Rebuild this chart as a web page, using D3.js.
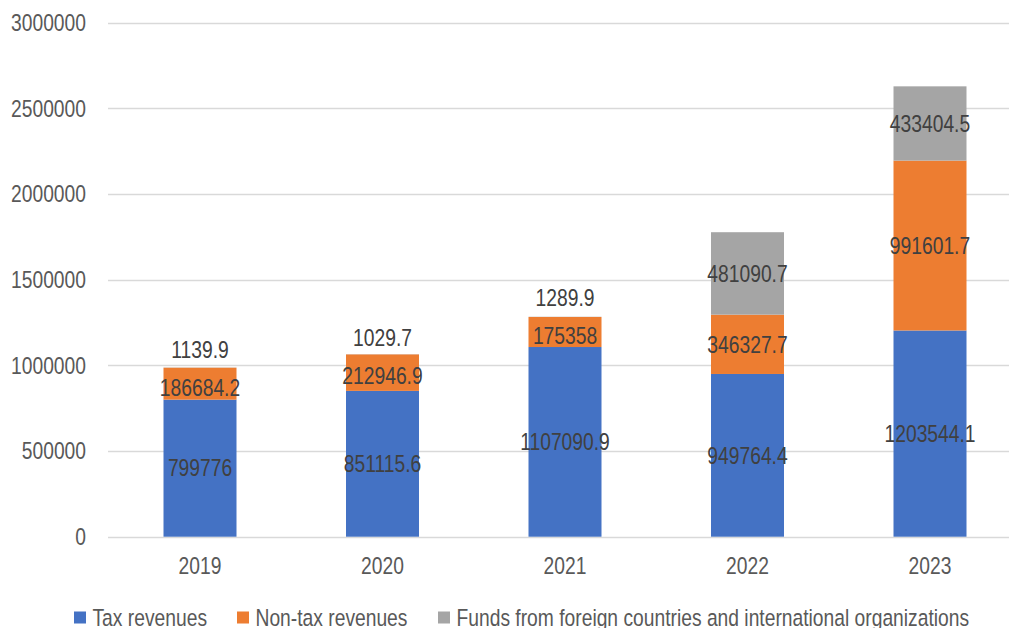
<!DOCTYPE html>
<html><head><meta charset="utf-8">
<script src="https://cdn.jsdelivr.net/npm/d3@7"></script>
<style>
html,body{margin:0;padding:0;background:#fff;overflow:hidden}
svg{display:block;font-family:"Liberation Sans",Arial,sans-serif}
</style></head>
<body>
<svg id="chart" width="1009" height="628"></svg>
<script>
const years = ["2019","2020","2021","2022","2023"];
const taxRevenues = [799776, 851115.6, 1107090.9, 949764.4, 1203544.1];
const nonTaxRevenues = [186684.2, 212946.9, 175358, 346327.7, 991601.7];
const foreignFunds = [1139.9, 1029.7, 1289.9, 481090.7, 433404.5];
const seriesNames = ["Tax revenues","Non-tax revenues","Funds from foreign countries and international organizations"];
const seriesColors = ["#4472C4","#ED7D31","#A5A5A5"];
const yTicks = [0,500000,1000000,1500000,2000000,2500000,3000000];

const SX = 0.82; // condensed font emulation
const FS = 23.5;
const keys = ["tax","nontax","foreign"];
const rows = years.map((y,i)=>({year:y, tax:taxRevenues[i], nontax:nonTaxRevenues[i], foreign:foreignFunds[i]}));
const stacked = d3.stack().keys(keys)(rows);

const svg = d3.select("#chart");
const x = d3.scaleBand().domain(years).range([108.75, 1021.25]).paddingInner(0.6).paddingOuter(0.3);
const y = d3.scaleLinear().domain([0,3000000]).range([536.7, 22.7]);

function placeText(sel, fx, fy){
  return sel.attr("transform", (d,i)=>`translate(${fx(d,i)},${fy(d,i)}) scale(${SX},1)`)
    .attr("dy","0.35em").attr("font-size",FS);
}

// gridlines
svg.append("g").selectAll("line").data(yTicks).join("line")
  .attr("x1",108).attr("x2",1009)
  .attr("y1",d=>Math.round(y(d))+0.5).attr("y2",d=>Math.round(y(d))+0.5)
  .attr("stroke","#D9D9D9").attr("stroke-width",1.5);

// y labels
placeText(svg.append("g").selectAll("text").data(yTicks).join("text"), ()=>86, d=>y(d))
  .attr("text-anchor","end").attr("fill","#595959")
  .text(d=>d3.format("d")(d));

// bars
const g = svg.append("g");
stacked.forEach((s,si)=>{
  g.append("g").attr("fill",seriesColors[si]).selectAll("rect").data(s).join("rect")
    .attr("x",d=>x(d.data.year)).attr("width",x.bandwidth())
    .attr("y",d=>y(d[1])).attr("height",d=>y(d[0])-y(d[1]));
});

// x labels
placeText(svg.append("g").selectAll("text").data(years).join("text"), d=>x(d)+x.bandwidth()/2, ()=>566)
  .attr("text-anchor","middle").attr("fill","#595959")
  .text(d=>d);

// data labels with simple overlap resolution
const labels = [];
years.forEach((yr,i)=>{
  const col = stacked.map((s,si)=>{
    const d = s[i];
    const v = d[1]-d[0];
    let cy = (y(d[0])+y(d[1]))/2;
    const h = y(d[0])-y(d[1]);
    const tiny = h < 10;
    if (tiny) cy = y(d[1]) - 11;
    return {year:yr, v, cy, tiny};
  });
  for (let k=col.length-1;k>0;k--){
    const top = col[k], below = col[k-1];
    if (top.tiny){
      const gap = below.cy - top.cy;
      const minGap = 38;
      if (gap < minGap){
        const def = minGap - gap;
        top.cy -= def*2/3;
        below.cy += def/3;
      }
    }
  }
  col.forEach(c=>labels.push(c));
});
placeText(svg.append("g").selectAll("text").data(labels).join("text"), d=>x(d.year)+x.bandwidth()/2, d=>d.cy)
  .attr("text-anchor","middle").attr("fill","#404040")
  .text(d=>String(Math.round(d.v*10)/10));

// legend
const legendX = [74, 237, 438];
const lg = svg.append("g");
seriesNames.forEach((n,i)=>{
  lg.append("rect").attr("x",legendX[i]).attr("y",611.5).attr("width",12).attr("height",12).attr("fill",seriesColors[i]);
  lg.append("text").attr("transform",`translate(${legendX[i]+18.5},617.5) scale(${SX},1)`).attr("dy","0.35em")
    .attr("font-size",FS).attr("fill","#595959").text(n);
});
</script>
</body></html>
